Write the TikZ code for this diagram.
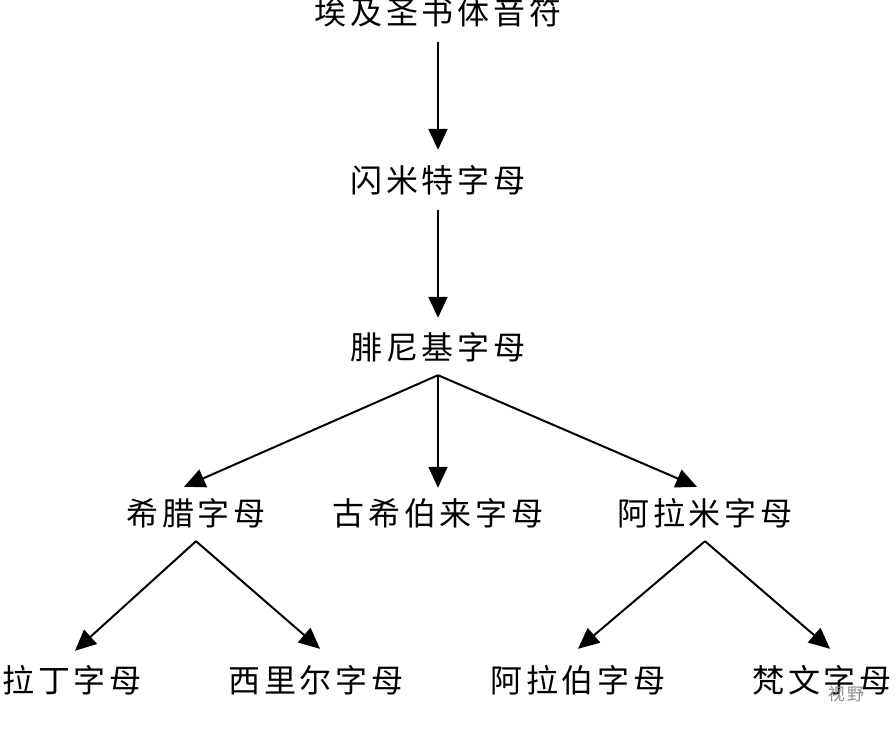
\documentclass[tikz,border=0pt]{standalone}
\usepackage{fontspec}
\newfontfamily\cjk[LetterSpace=12]{Noto Sans CJK SC}
\usetikzlibrary{arrows.meta}
\tikzset{
  lbl/.style={font=\cjk\fontsize{32}{32}\selectfont, inner sep=0pt, text height=40.2pt, text depth=15.8pt, anchor=center},
  arr/.style={line width=2pt, -{Triangle[length=21pt,width=19pt]}},
  wm/.style={font=\cjk\fontsize{17}{17}\selectfont, text=black!45, inner sep=0pt}
}
\begin{document}
\begin{tikzpicture}[x=1pt,y=-1pt]
\useasboundingbox[fill=white] (0,0) rectangle (896,732);
\node[lbl] (egy) at (438,12) {埃及圣书体音符};
\node[lbl] (sem) at (438,180) {闪米特字母};
\node[lbl] (phe) at (438,347) {腓尼基字母};
\node[lbl] (gre) at (196,513) {希腊字母};
\node[lbl] (heb) at (438,513) {古希伯来字母};
\node[lbl] (ara) at (705,513) {阿拉米字母};
\node[lbl] (lat) at (72,680) {拉丁字母};
\node[lbl] (cyr) at (316,680) {西里尔字母};
\node[lbl] (arb) at (578,680) {阿拉伯字母};
\node[lbl] (san) at (822,680) {梵文字母};
\node[wm] (wmk) at (846,694) {视野};
\draw[arr] ([yshift=-2pt]egy.south) -- ([yshift=2pt]sem.north);
\draw[arr] ([yshift=-2pt]sem.south) -- ([yshift=1pt]phe.north);
\draw[arr] (phe.south) -- ([xshift=-12pt,yshift=-2pt]gre.north);
\draw[arr] (phe.south) -- ([yshift=-3pt]heb.north);
\draw[arr] (phe.south) -- ([xshift=-8pt,yshift=-2pt]ara.north);
\draw[arr] (gre.south) -- ([xshift=3pt,yshift=1pt]lat.north);
\draw[arr] (gre.south) -- ([xshift=4pt,yshift=3pt]cyr.north);
\draw[arr] (ara.south) -- ([yshift=3pt]arb.north);
\draw[arr] (ara.south) -- ([xshift=8pt,yshift=3pt]san.north);
\end{tikzpicture}
\end{document}
